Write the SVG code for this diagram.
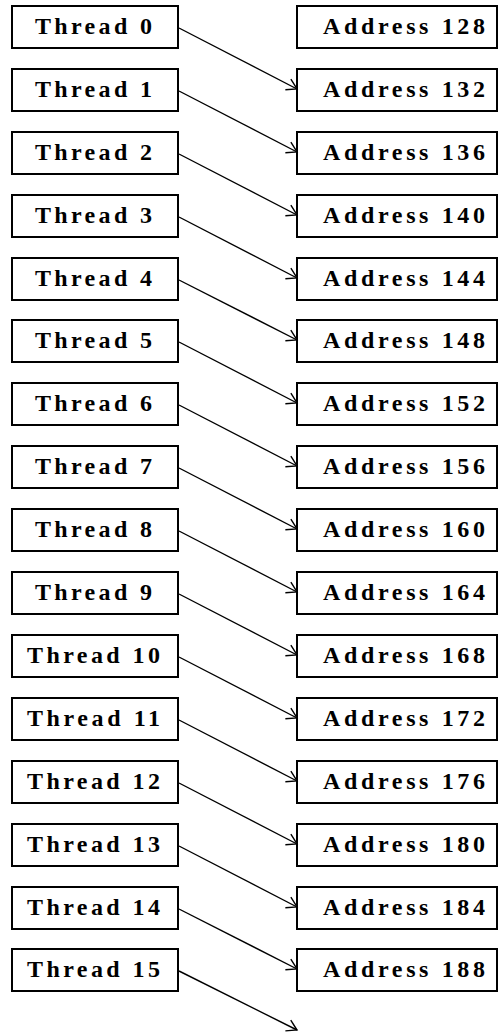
<svg xmlns="http://www.w3.org/2000/svg" width="500" height="1032" viewBox="0 0 500 1032">
<style>
rect{fill:#fff;stroke:#000;stroke-width:2}
text{font-family:"Liberation Serif",serif;font-weight:bold;font-size:24px;fill:#000}
.c line{stroke:#000;stroke-width:1.4}
</style>
<defs>
<marker id="a" markerWidth="14" markerHeight="14" refX="12" refY="7" orient="auto" markerUnits="userSpaceOnUse">
<path d="M2,1 L12,7 L2,13" fill="none" stroke="#000" stroke-width="1.4"/>
</marker>
</defs>
<rect width="500" height="1032" style="stroke:none"/>
<g id="t0"><rect x="12" y="6" width="166" height="42"/><text x="35" y="34" textLength="117" lengthAdjust="spacing">Thread 0</text></g>
<g id="t1"><rect x="12" y="69" width="166" height="42"/><text x="35" y="97" textLength="117" lengthAdjust="spacing">Thread 1</text></g>
<g id="t2"><rect x="12" y="132" width="166" height="42"/><text x="35" y="160" textLength="117" lengthAdjust="spacing">Thread 2</text></g>
<g id="t3"><rect x="12" y="195" width="166" height="42"/><text x="35" y="223" textLength="117" lengthAdjust="spacing">Thread 3</text></g>
<g id="t4"><rect x="12" y="258" width="166" height="42"/><text x="35" y="286" textLength="117" lengthAdjust="spacing">Thread 4</text></g>
<g id="t5"><rect x="12" y="320" width="166" height="42"/><text x="35" y="348" textLength="117" lengthAdjust="spacing">Thread 5</text></g>
<g id="t6"><rect x="12" y="383" width="166" height="42"/><text x="35" y="411" textLength="117" lengthAdjust="spacing">Thread 6</text></g>
<g id="t7"><rect x="12" y="446" width="166" height="42"/><text x="35" y="474" textLength="117" lengthAdjust="spacing">Thread 7</text></g>
<g id="t8"><rect x="12" y="509" width="166" height="42"/><text x="35" y="537" textLength="117" lengthAdjust="spacing">Thread 8</text></g>
<g id="t9"><rect x="12" y="572" width="166" height="42"/><text x="35" y="600" textLength="117" lengthAdjust="spacing">Thread 9</text></g>
<g id="t10"><rect x="12" y="635" width="166" height="42"/><text x="27" y="663" textLength="133" lengthAdjust="spacing">Thread 10</text></g>
<g id="t11"><rect x="12" y="698" width="166" height="42"/><text x="27" y="726" textLength="133" lengthAdjust="spacing">Thread 11</text></g>
<g id="t12"><rect x="12" y="761" width="166" height="42"/><text x="27" y="789" textLength="133" lengthAdjust="spacing">Thread 12</text></g>
<g id="t13"><rect x="12" y="824" width="166" height="42"/><text x="27" y="852" textLength="133" lengthAdjust="spacing">Thread 13</text></g>
<g id="t14"><rect x="12" y="887" width="166" height="42"/><text x="27" y="915" textLength="133" lengthAdjust="spacing">Thread 14</text></g>
<g id="t15"><rect x="12" y="949" width="166" height="42"/><text x="27" y="977" textLength="133" lengthAdjust="spacing">Thread 15</text></g>
<g id="a128"><rect x="297" y="6" width="200" height="42"/><text x="323" y="34" textLength="162" lengthAdjust="spacing">Address 128</text></g>
<g id="a132"><rect x="297" y="69" width="200" height="42"/><text x="323" y="97" textLength="162" lengthAdjust="spacing">Address 132</text></g>
<g id="a136"><rect x="297" y="132" width="200" height="42"/><text x="323" y="160" textLength="162" lengthAdjust="spacing">Address 136</text></g>
<g id="a140"><rect x="297" y="195" width="200" height="42"/><text x="323" y="223" textLength="162" lengthAdjust="spacing">Address 140</text></g>
<g id="a144"><rect x="297" y="258" width="200" height="42"/><text x="323" y="286" textLength="162" lengthAdjust="spacing">Address 144</text></g>
<g id="a148"><rect x="297" y="320" width="200" height="42"/><text x="323" y="348" textLength="162" lengthAdjust="spacing">Address 148</text></g>
<g id="a152"><rect x="297" y="383" width="200" height="42"/><text x="323" y="411" textLength="162" lengthAdjust="spacing">Address 152</text></g>
<g id="a156"><rect x="297" y="446" width="200" height="42"/><text x="323" y="474" textLength="162" lengthAdjust="spacing">Address 156</text></g>
<g id="a160"><rect x="297" y="509" width="200" height="42"/><text x="323" y="537" textLength="162" lengthAdjust="spacing">Address 160</text></g>
<g id="a164"><rect x="297" y="572" width="200" height="42"/><text x="323" y="600" textLength="162" lengthAdjust="spacing">Address 164</text></g>
<g id="a168"><rect x="297" y="635" width="200" height="42"/><text x="323" y="663" textLength="162" lengthAdjust="spacing">Address 168</text></g>
<g id="a172"><rect x="297" y="698" width="200" height="42"/><text x="323" y="726" textLength="162" lengthAdjust="spacing">Address 172</text></g>
<g id="a176"><rect x="297" y="761" width="200" height="42"/><text x="323" y="789" textLength="162" lengthAdjust="spacing">Address 176</text></g>
<g id="a180"><rect x="297" y="824" width="200" height="42"/><text x="323" y="852" textLength="162" lengthAdjust="spacing">Address 180</text></g>
<g id="a184"><rect x="297" y="887" width="200" height="42"/><text x="323" y="915" textLength="162" lengthAdjust="spacing">Address 184</text></g>
<g id="a188"><rect x="297" y="949" width="200" height="42"/><text x="323" y="977" textLength="162" lengthAdjust="spacing">Address 188</text></g>
<g class="c" id="connectors">
<line x1="179" y1="28" x2="297" y2="89" marker-end="url(#a)"/>
<line x1="179" y1="91" x2="297" y2="152" marker-end="url(#a)"/>
<line x1="179" y1="154" x2="297" y2="215" marker-end="url(#a)"/>
<line x1="179" y1="217" x2="297" y2="278" marker-end="url(#a)"/>
<line x1="179" y1="280" x2="297" y2="340" marker-end="url(#a)"/>
<line x1="179" y1="342" x2="297" y2="403" marker-end="url(#a)"/>
<line x1="179" y1="405" x2="297" y2="466" marker-end="url(#a)"/>
<line x1="179" y1="468" x2="297" y2="529" marker-end="url(#a)"/>
<line x1="179" y1="531" x2="297" y2="592" marker-end="url(#a)"/>
<line x1="179" y1="594" x2="297" y2="655" marker-end="url(#a)"/>
<line x1="179" y1="657" x2="297" y2="718" marker-end="url(#a)"/>
<line x1="179" y1="720" x2="297" y2="781" marker-end="url(#a)"/>
<line x1="179" y1="783" x2="297" y2="844" marker-end="url(#a)"/>
<line x1="179" y1="846" x2="297" y2="907" marker-end="url(#a)"/>
<line x1="179" y1="909" x2="297" y2="969" marker-end="url(#a)"/>
<line x1="179" y1="971" x2="297" y2="1030" marker-end="url(#a)"/>
</g>
</svg>
